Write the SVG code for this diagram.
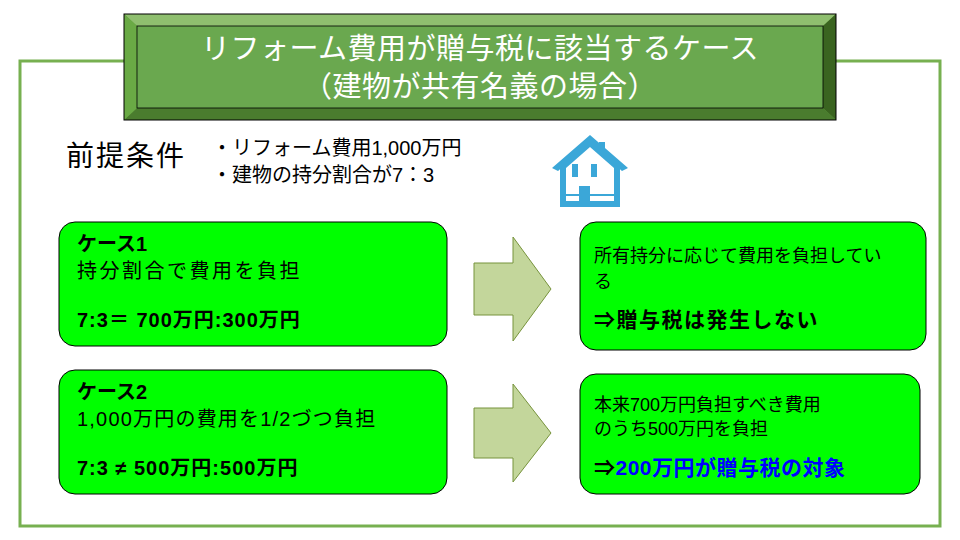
<svg xmlns="http://www.w3.org/2000/svg" width="960" height="540" viewBox="0 0 960 540">
<style>
.jp{font-family:"Liberation Sans","Noto Sans CJK JP",sans-serif;fill:#000}
.b{font-weight:bold}
.box{fill:#00ff00;stroke:#000;stroke-width:1}
.arr{fill:#c3d69b;stroke:#77933c;stroke-width:1}
</style>
<rect width="960" height="540" fill="#fff"/>
<rect x="20" y="61" width="920" height="465" fill="none" stroke="#77b050" stroke-width="3"/>
<g id="title">
<rect x="124" y="14" width="712" height="106" fill="#5e9a3a"/>
<polygon points="124,14 836,14 823,26 137,26" fill="#8fbf6f"/>
<polygon points="836,14 836,120 823,108 823,26" fill="#3a6420"/>
<polygon points="124,120 836,120 823,108 137,108" fill="#4a7c2e"/>
<polygon points="124,14 137,26 137,108 124,120" fill="#6aaa45"/>
<rect x="124" y="14" width="712" height="106" fill="none" stroke="#000" stroke-width="1"/>
<rect x="137" y="26" width="686" height="82" fill="#6aa84f" stroke="#000" stroke-width="0.8"/>
<text class="jp" x="480" y="59" font-size="29" text-anchor="middle" letter-spacing="0.5" style="fill:#fff">リフォーム費用が贈与税に該当するケース</text>
<text class="jp" x="480" y="97" font-size="29" text-anchor="middle" letter-spacing="0.5" style="fill:#fff">（建物が共有名義の場合）</text>
</g>
<g id="premise">
<text class="jp" x="66" y="166" font-size="28" letter-spacing="2">前提条件</text>
<text class="jp" x="212" y="155" font-size="20">・リフォーム費用1,000万円</text>
<text class="jp" x="212" y="182" font-size="20">・建物の持分割合が7：3</text>
</g>
<g id="house" fill="#3ba7d8">
<polygon points="590,135 552,168 558,171 590,143 622,171 628,168"/>
<rect x="599" y="142" width="6" height="12"/>
<path d="M560,166 L590,140 L620,166 L620,207 L560,207 Z M566,168 L566,201 L614,201 L614,168 L590,147 Z" fill-rule="evenodd"/>
<rect x="572" y="164" width="6" height="13"/>
<rect x="591" y="164" width="6" height="13"/>
<rect x="579" y="186" width="11" height="17"/>
<rect x="566" y="194" width="48" height="2"/>
</g>
<g id="case1">
<rect class="box" x="59" y="222" width="388" height="124" rx="16"/>
<text class="jp b" x="77" y="251" font-size="20">ケース1</text>
<text class="jp" x="77" y="278" font-size="20" letter-spacing="2.5">持分割合で費用を負担</text>
<text class="jp b" x="77" y="327" font-size="20" letter-spacing="1">7:3＝ 700万円:300万円</text>
</g>
<g id="case2">
<rect class="box" x="59" y="370" width="388" height="124" rx="16"/>
<text class="jp b" x="77" y="399" font-size="20">ケース2</text>
<text class="jp" x="77" y="426" font-size="20" letter-spacing="1.2">1,000万円の費用を1/2づつ負担</text>
<text class="jp b" x="77" y="475" font-size="20" letter-spacing="1">7:3 ≠ 500万円:500万円</text>
</g>
<g id="result1">
<rect class="box" x="580" y="222" width="346" height="128" rx="16"/>
<text class="jp" x="594" y="262" font-size="18">所有持分に応じて費用を負担してい</text>
<text class="jp" x="594" y="288" font-size="18">る</text>
<text class="jp b" x="594" y="327" font-size="21" letter-spacing="1.5">⇒贈与税は発生しない</text>
</g>
<g id="result2">
<rect class="box" x="580" y="374" width="340" height="120" rx="16"/>
<text class="jp" x="594" y="411" font-size="18">本来700万円負担すべき費用</text>
<text class="jp" x="594" y="435" font-size="18">のうち500万円を負担</text>
<text class="jp b" x="594" y="475" font-size="21" letter-spacing="0.5">⇒<tspan style="fill:#0000ff">200万円が贈与税の対象</tspan></text>
</g>
<g id="connectors">
<polygon class="arr" points="474,263 513,263 513,237 551,289 513,341 513,315 474,315"/>
<polygon class="arr" points="474,408 513,408 513,384 551,433 513,482 513,458 474,458"/>
</g>
</svg>
